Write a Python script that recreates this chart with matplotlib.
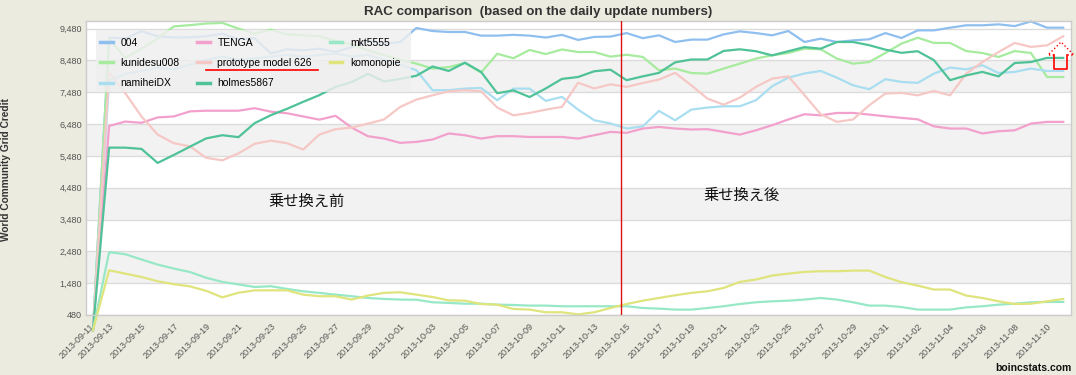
import numpy as np
import pandas as pd
import matplotlib
matplotlib.use('Agg')
import matplotlib.pyplot as plt
from matplotlib.lines import Line2D
from matplotlib.patches import Rectangle

# ----------------------------
# Data (one value per day)
# ----------------------------
dates = pd.date_range('2013-09-12', '2013-11-11', freq='D')

s_004 = [0, 9200, 9170, 9400, 9240, 9200, 9210, 9240, 9320, 9150,
         9180, 8700, 8830, 8800, 8850, 8750, 8900, 9100, 9000, 9060,
         9500, 9405, 9375, 9375, 9260, 9260, 9285, 9260, 9200, 9285,
         9125, 9220, 9230, 9340, 9180, 9270, 9060, 9135, 9135, 9300,
         9395, 9340, 9270, 9405, 9060, 9165, 9060, 9110, 9145, 9340,
         9185, 9425, 9425, 9510, 9585, 9585, 9615, 9560, 9705, 9510, 9510]

s_kunidesu = [0, 9150, 8560, 8850, 9170, 9550, 9590, 9640, 9660, 9480,
              9320, 9450, 9300, 9270, 9240, 9100, 8980, 8800, 8650, 8500,
              8380, 8225, 8270, 8400, 8100, 8690, 8550, 8810, 8680, 8825,
              8745, 8745, 8600, 8660, 8590, 8170, 8225, 8085, 8065, 8225,
              8380, 8540, 8640, 8715, 8850, 8830, 8540, 8380, 8430, 8715,
              9010, 9195, 9030, 9030, 8775, 8715, 8590, 8775, 8715, 7960, 7960]

s_namihei = [0, 7850, 8050, 8150, 8250, 8200, 8350, 8500, 8600, 8500,
             8550, 8600, 8650, 8600, 8650, 8700, 8600, 8650, 8500, 8350,
             8170, 7545, 7545, 7595, 7615, 7230, 7595, 7595, 7210, 7335,
             6935, 6600, 6500, 6340, 6410, 6895, 6600, 6935, 7000, 7040,
             7040, 7230, 7670, 7940, 8070, 8150, 7940, 7700, 7575, 7890,
             7805, 7775, 8065, 8255, 8200, 8330, 8085, 8120, 8225, 8150, 8150]

s_tenga = [0, 6420, 6560, 6520, 6690, 6720, 6880, 6900, 6900, 6900,
           6980, 6870, 6820, 6720, 6620, 6740, 6370, 6100, 6025, 5890,
           5920, 5995, 6185, 6130, 6025, 6100, 6100, 6075, 6075, 6075,
           6025, 6130, 6235, 6205, 6340, 6390, 6340, 6310, 6320, 6235,
           6150, 6285, 6445, 6625, 6790, 6755, 6830, 6830, 6780, 6725,
           6675, 6630, 6410, 6340, 6340, 6185, 6255, 6285, 6495, 6550, 6550]

s_proto = [0, 8100, 7450, 6720, 6150, 5880, 5780, 5420, 5340, 5560,
           5860, 5960, 5880, 5680, 6150, 6320, 6370, 6495, 6625, 7020,
           7250, 7385, 7510, 7545, 7510, 7000, 6755, 6830, 6935, 7020,
           7780, 7600, 7730, 7650, 7770, 7880, 8090, 7700, 7280, 7090,
           7310, 7650, 7910, 7980, 7390, 6790, 6550, 6625, 7070, 7440,
           7460, 7385, 7520, 7385, 8065, 8430, 8745, 9030, 8905, 8955, 9240]

s_holmes = [0, 5740, 5740, 5700, 5260, 5510, 5770, 6030, 6130, 6070,
            6510, 6760, 6960, 7180, 7390, 7650, 7800, 8060, 7820, 7900,
            8000, 8290, 8150, 8410, 8120, 7450, 7540, 7330, 7600, 7900,
            7960, 8140, 8190, 7860, 7980, 8090, 8420, 8510, 8510, 8780,
            8830, 8770, 8640, 8770, 8900, 8850, 9060, 9060, 8960, 8820,
            8720, 8770, 8490, 7860, 8010, 8120, 7980, 8400, 8430, 8560, 8560]

s_mkt = [0, 2455, 2390, 2225, 2065, 1940, 1830, 1650, 1520, 1440,
         1360, 1385, 1300, 1225, 1175, 1120, 1070, 1015, 985, 965,
         960, 880, 860, 835, 835, 805, 795, 775, 775, 755,
         755, 755, 755, 755, 700, 680, 650, 650, 700, 755,
         825, 880, 910, 930, 965, 1015, 965, 880, 775, 775,
         730, 650, 650, 650, 720, 755, 805, 835, 880, 890, 890]

s_komono = [0, 1885, 1780, 1675, 1540, 1450, 1380, 1240, 1035, 1180,
            1255, 1255, 1255, 1120, 1070, 1070, 965, 1090, 1175, 1195,
            1120, 1045, 940, 930, 825, 805, 670, 650, 565, 565,
            500, 565, 700, 825, 930, 1015, 1100, 1175, 1225, 1330,
            1520, 1595, 1720, 1780, 1835, 1855, 1855, 1875, 1875, 1675,
            1510, 1405, 1280, 1280, 1090, 1015, 910, 825, 835, 910, 985]

names = ['004', 'kunidesu008', 'namiheiDX', 'TENGA', 'prototype model 626',
         'holmes5867', 'mkt5555', 'komonopie']
series = [s_004, s_kunidesu, s_namihei, s_tenga, s_proto, s_holmes, s_mkt, s_komono]
colors = ['#8fbfef', '#a6eb9e', '#a9def0', '#f2a0cc', '#f6c8c5',
          '#4fc298', '#97e8c6', '#dfe47c']

y_ticks = list(range(480, 9481, 1000))
tick_labels = ['2013-09-11'] + [d.strftime('%Y-%m-%d')
                                for d in pd.date_range('2013-09-13', '2013-11-10', freq='2D')]
tick_pos = [-0.2] + list(range(1, 60, 2))

switch_day = 32.65   # red marker line (between 10-14 and 10-15)

# ----------------------------
# Figure
# ----------------------------
W, H = 1076, 375
def fx(px):
    return px / W
def fy(py):
    return 1 - py / H

fig = plt.figure(figsize=(W / 100, H / 100), dpi=100, facecolor='#ecebdf')
ax = fig.add_axes([fx(86), fy(315), (1071 - 86) / W, (315 - 21) / H])
ax.set_facecolor('white')

x = np.arange(len(dates))

for lo in (1480, 3480, 5480, 7480):
    ax.axhspan(lo, lo + 1000, color='#f2f2f2', lw=0, zorder=0)

for name, vals, c in zip(names, series, colors):
    ax.plot(x, vals, color=c, lw=1.6, label=name, clip_on=False, zorder=2)

ax.axvline(switch_day, color='#e01010', lw=1, zorder=3)

ax.set_xlim(-0.43, 60.48)
ax.set_ylim(480, 9720)
ax.set_yticks(y_ticks)
ax.set_yticklabels([f'{v:,}' for v in y_ticks])
ax.set_xticks(tick_pos)
ax.set_xticklabels(tick_labels, rotation=45, ha='right', rotation_mode='anchor')
ax.yaxis.grid(True, color='#dcdcdc', lw=1)
ax.set_axisbelow(True)
ax.tick_params(axis='both', length=0, colors='#555555', labelsize=6.5)
ax.tick_params(axis='x', pad=5)
ax.tick_params(axis='y', pad=3)
for lab in ax.get_xticklabels() + ax.get_yticklabels():
    lab.set_fontfamily('Liberation Sans')
for sp in ax.spines.values():
    sp.set_color('#cccccc')
    sp.set_linewidth(1)

# legend: translucent box drawn separately, entries on top
ax.add_patch(Rectangle((fx(96), fy(92)), (411 - 96) / W, (92 - 30) / H,
                       transform=fig.transFigure, facecolor='#efefef', alpha=0.82,
                       edgecolor='none', zorder=4, clip_on=False))
leg = ax.legend(ncol=3, loc='upper left', bbox_to_anchor=(fx(100), fy(37.5)),
                bbox_transform=fig.transFigure, frameon=False,
                prop={'family': 'Liberation Sans', 'size': 7.5},
                handlelength=1.2, handletextpad=0.75, columnspacing=1.7,
                labelspacing=1.0, borderpad=0, borderaxespad=0)
leg.set_zorder(5)
for h in leg.get_lines():
    h.set_linewidth(2.5)

# annotations
ax.text(13.2, 4060, '乗せ換え前', fontsize=11, ha='center', va='center',
        family=['Noto Sans CJK JP', 'DejaVu Sans'], color='#111111', zorder=6)
ax.text(40.1, 4245, '乗せ換え後', fontsize=11, ha='center', va='center',
        family=['Noto Sans CJK JP', 'DejaVu Sans'], color='#111111', zorder=6)

fig.add_artist(Line2D([fx(206), fx(318)], [fy(70), fy(70)], color='red', lw=1.2,
                      transform=fig.transFigure, zorder=10))
# hollow up-arrow at the right edge
fig.add_artist(Line2D([fx(p) for p in (1054, 1048, 1061, 1074, 1067)],
                      [fy(p) for p in (55, 55, 42, 55, 55)],
                      color='red', lw=1, ls=':', transform=fig.transFigure, zorder=10))
fig.add_artist(Line2D([fx(p) for p in (1054, 1054, 1067, 1067)],
                      [fy(p) for p in (55, 69, 69, 55)],
                      color='red', lw=1.2, transform=fig.transFigure, zorder=10))

fig.text(fx(538), fy(12), 'RAC comparison  (based on the daily update numbers)',
         ha='center', va='center', fontsize=9.6, fontweight='bold',
         family='Liberation Sans', color='#333333')
fig.text(fx(6), fy(170), 'World Community Grid Credit', rotation=90,
         ha='center', va='center', fontsize=7.3, fontweight='bold',
         family='Liberation Sans', color='#333333')
fig.text(fx(1072), fy(368), 'boincstats.com', ha='right', va='center',
         fontsize=7.5, fontweight='bold', family='Liberation Sans', color='#111111')

fig.savefig('out.png', dpi=100, facecolor=fig.get_facecolor())
